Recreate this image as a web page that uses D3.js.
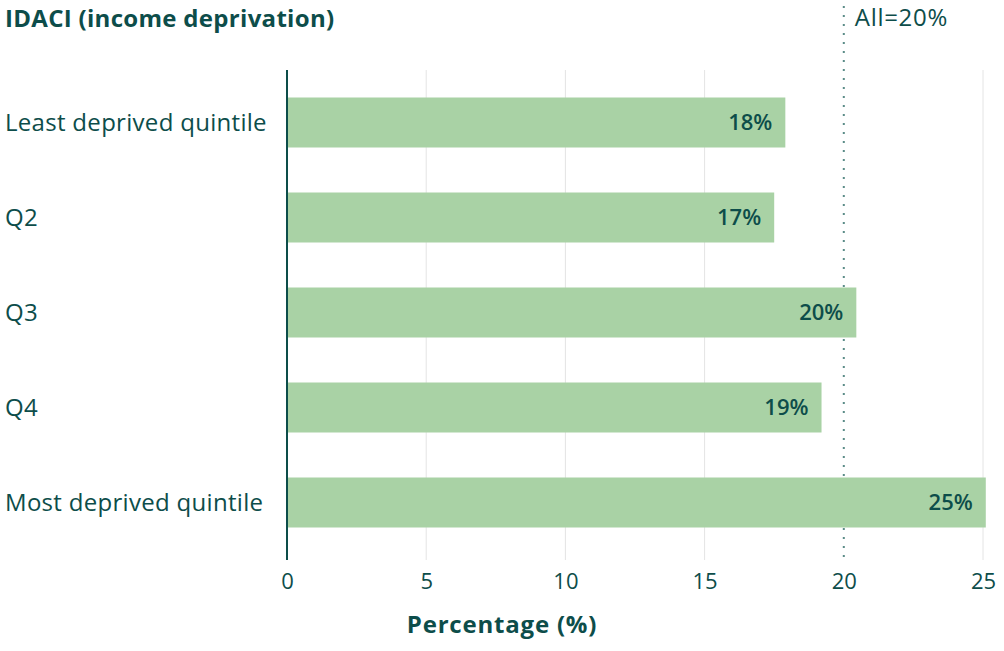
<meta charset="utf-8" />
<script src="https://d3js.org/d3.v7.min.js"></script>
<style>
  body { margin: 0; background: #fff; }
  text { font-family: 'Open Sans', sans-serif; fill: #0d4d4a; }
</style>
<div id="chart"></div>
<script>
  // values
  const categories = ['Least deprived quintile', 'Q2', 'Q3', 'Q4', 'Most deprived quintile'];
  const values = [17.9, 17.5, 20.45, 19.2, 25.1];
  const valueLabels = ['18%', '17%', '20%', '19%', '25%'];
  const xTicks = [0, 5, 10, 15, 20, 25];
  const allValue = 20;
  const allLabel = 'All=20%';

  const width = 1004,
    height = 651;

  const svg = d3
    .select('#chart')
    .append('svg')
    .attr('width', width)
    .attr('height', height);

  const x = d3.scaleLinear().domain([0, 25]).range([287, 983]);
  const y = d3
    .scaleBand()
    .domain(categories)
    .range([69, 556])
    .paddingInner(45 / 95)
    .paddingOuter(0.3);

  const plotTop = 70,
    plotBottom = 560;

  // light gridlines
  svg
    .append('g')
    .selectAll('line')
    .data(xTicks.filter((d) => d !== 0 && d !== allValue))
    .join('line')
    .attr('x1', (d) => x(d))
    .attr('x2', (d) => x(d))
    .attr('y1', plotTop)
    .attr('y2', plotBottom)
    .attr('stroke', '#e4e4e4')
    .attr('stroke-width', 1);

  // reference line for all pupils (sits behind the bars)
  svg
    .append('line')
    .attr('x1', x(allValue))
    .attr('x2', x(allValue))
    .attr('y1', 6)
    .attr('y2', plotBottom)
    .attr('stroke', '#5b8c88')
    .attr('stroke-width', 2)
    .attr('stroke-dasharray', '2,7');

  svg
    .append('text')
    .attr('x', x(allValue) + 11)
    .attr('y', 26)
    .style('font-size', '24px')
    .style('letter-spacing', '0.7px')
    .text(allLabel);

  // bars
  svg
    .append('g')
    .selectAll('rect')
    .data(categories)
    .join('rect')
    .attr('x', x(0))
    .attr('y', (d) => y(d))
    .attr('width', (d, i) => x(values[i]) - x(0))
    .attr('height', y.bandwidth())
    .attr('fill', '#a9d2a5');

  // value labels inside bar ends
  svg
    .append('g')
    .selectAll('text')
    .data(categories)
    .join('text')
    .attr('x', (d, i) => x(values[i]) - 13)
    .attr('y', (d) => y(d) + y.bandwidth() / 2)
    .attr('dy', '0.35em')
    .attr('text-anchor', 'end')
    .style('font-size', '22px')
    .style('font-weight', 600)
    .text((d, i) => valueLabels[i]);

  // y axis line and category labels
  svg
    .append('line')
    .attr('x1', x(0))
    .attr('x2', x(0))
    .attr('y1', plotTop)
    .attr('y2', plotBottom)
    .attr('stroke', '#0d4d4a')
    .attr('stroke-width', 2);

  svg
    .append('g')
    .selectAll('text')
    .data(categories)
    .join('text')
    .attr('x', 5)
    .attr('y', (d) => y(d) + y.bandwidth() / 2)
    .attr('dy', '0.35em')
    .style('font-size', '24px')
    .style('letter-spacing', '0.3px')
    .text((d) => d);

  // x axis tick labels
  const xAxis = svg
    .append('g')
    .attr('transform', `translate(0,${plotBottom})`)
    .call(d3.axisBottom(x).tickValues(xTicks).tickSize(0).tickPadding(13));
  xAxis.select('.domain').remove();
  xAxis
    .selectAll('text')
    .style('font-size', '22px')
    .style('font-family', "'Open Sans', sans-serif")
    .attr('fill', '#0d4d4a');

  // titles
  svg
    .append('text')
    .attr('x', 5)
    .attr('y', 27)
    .style('font-size', '24px')
    .style('font-weight', 700)
    .style('letter-spacing', '0.3px')
    .text('IDACI (income deprivation)');

  svg
    .append('text')
    .attr('x', width / 2)
    .attr('y', 633)
    .attr('text-anchor', 'middle')
    .style('font-size', '24px')
    .style('font-weight', 700)
    .style('letter-spacing', '0.8px')
    .text('Percentage (%)');
</script>
